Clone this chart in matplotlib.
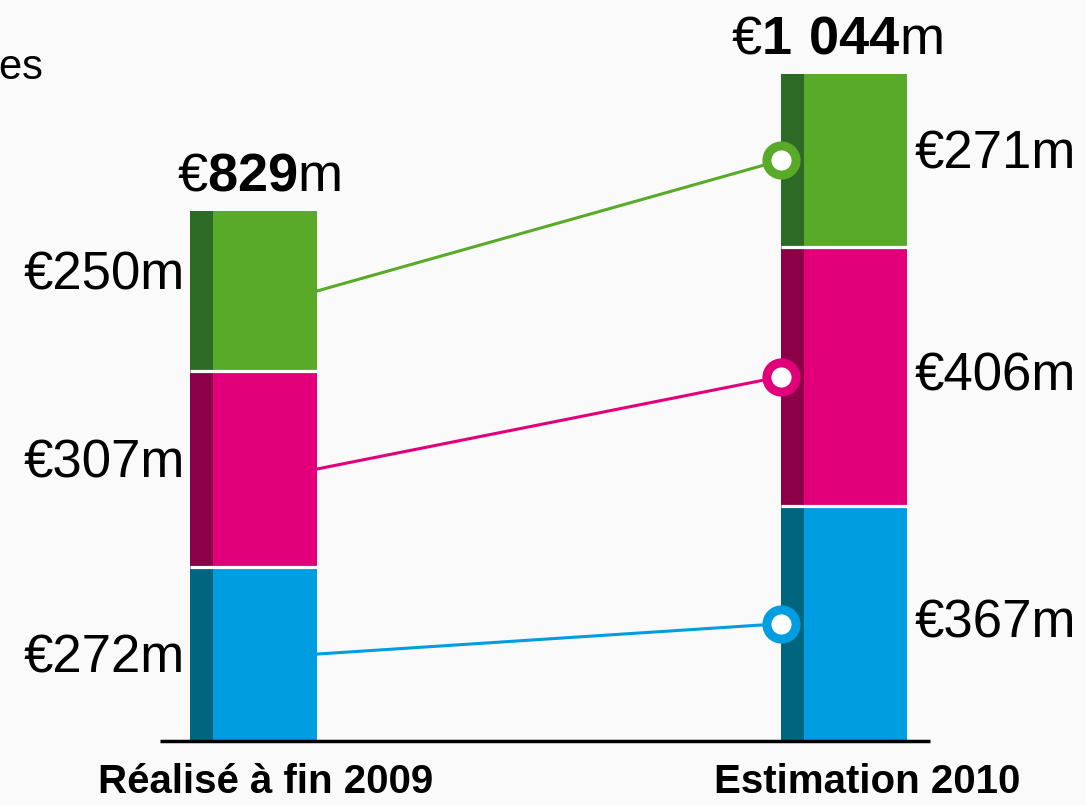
import matplotlib
matplotlib.use("Agg")
import matplotlib.pyplot as plt
from matplotlib.transforms import offset_copy

# Data (millions of euros)
categories = ["Réalisé à fin 2009", "Estimation 2010"]
segments = ["bleu", "rose", "vert"]
values_2009 = [272, 307, 250]
values_2010 = [367, 406, 271]
totals = ["829", "1\\ 044"]
header_text = "res"

face_colors = ["#009ee0", "#e2007a", "#58aa28"]
strip_colors = ["#006680", "#8c0047", "#2d6a26"]

plt.rcParams["font.family"] = ["Liberation Sans", "DejaVu Sans"]
plt.rcParams["mathtext.fontset"] = "custom"
plt.rcParams["mathtext.rm"] = "Liberation Sans"
plt.rcParams["mathtext.bf"] = "Liberation Sans:bold"

W, H, DPI = 1086, 805, 100
BG = "#fafafa"
fig = plt.figure(figsize=(W / DPI, H / DPI), dpi=DPI, facecolor=BG)
ax = fig.add_axes([0, 0, 1, 1])
ax.set_facecolor(BG)
ax.axis("off")

# Pixel geometry -> data limits
px_per_cat = 591.0
x0_px = 253.0
px_per_unit = 0.639
base_px = 64.0
ax.set_xlim(-x0_px / px_per_cat, (W - x0_px) / px_per_cat)
ax.set_ylim(-base_px / px_per_unit, (H - base_px) / px_per_unit)


def ypx(py):
    """data y for a pixel row measured from the top"""
    return (H - py - base_px) / px_per_unit


def xpx(px):
    return (px - x0_px) / px_per_cat


bar_w = 127 / px_per_cat
strip_w = 23 / px_per_cat

series = [values_2009, values_2010]
mids = []
for xi, vals in enumerate(series):
    bottom = 0
    m = []
    for si, v in enumerate(vals):
        ax.bar(xi, v, width=bar_w, bottom=bottom, color=face_colors[si],
               edgecolor="none", zorder=2)
        ax.bar(xi - bar_w / 2, v, width=strip_w, bottom=bottom, align="edge",
               color=strip_colors[si], edgecolor="none", zorder=3)
        if si > 0:
            ax.plot([xi - bar_w / 2, xi + bar_w / 2], [bottom, bottom],
                    color="white", lw=2.3, zorder=4, solid_capstyle="butt")
        m.append(bottom + v / 2)
        bottom += v
    mids.append(m)

# Connecting lines with ring markers on the 2010 bar
for si in range(len(segments)):
    ax.plot([0 + bar_w / 2, 1 - bar_w / 2], [mids[0][si], mids[1][si]],
            color=face_colors[si], lw=2.2, zorder=5)
    ax.plot([1 - bar_w / 2], [mids[1][si]], marker="o", ms=21,
            mfc="white", mec=face_colors[si], mew=6.5, zorder=6)

# Value labels (small vertical nudges in points)
fs = 38
left_dy = [-3, 4, 11]
right_dy = [0, 0, 4]
for si, v in enumerate(values_2009):
    t = offset_copy(ax.transData, fig=fig, x=0, y=left_dy[si], units="points")
    ax.text(0 - bar_w / 2 - 5 / px_per_cat, mids[0][si], f"€{v}m",
            ha="right", va="center", fontsize=fs, color="black", transform=t)
for si, v in enumerate(values_2010):
    t = offset_copy(ax.transData, fig=fig, x=0, y=right_dy[si], units="points")
    ax.text(1 + bar_w / 2 + 7 / px_per_cat, mids[1][si], f"€{v}m",
            ha="left", va="center", fontsize=fs, color="black", transform=t)

# Totals above bars
total_dx = [4, -5]
for xi, vals in enumerate(series):
    t = offset_copy(ax.transData, fig=fig, x=total_dx[xi], y=15, units="points")
    ax.text(xi, sum(vals), "€$\\mathbf{" + totals[xi] + "}$m",
            ha="center", va="baseline", fontsize=39, transform=t)

# Baseline axis
ax.plot([xpx(160), xpx(930)], [0, 0],
        color="black", lw=2.5, zorder=7, solid_capstyle="butt")

# Category labels
for xi, (lab, dx) in enumerate(zip(categories, [13, 23])):
    ax.text(xi + dx / px_per_cat, ypx(793), lab,
            ha="center", va="baseline", fontsize=29, fontweight="bold")

# Partially visible header text
ax.text(xpx(43), ypx(79), header_text,
        ha="right", va="baseline", fontsize=30)

fig.savefig("out.png", dpi=DPI, facecolor=fig.get_facecolor())
